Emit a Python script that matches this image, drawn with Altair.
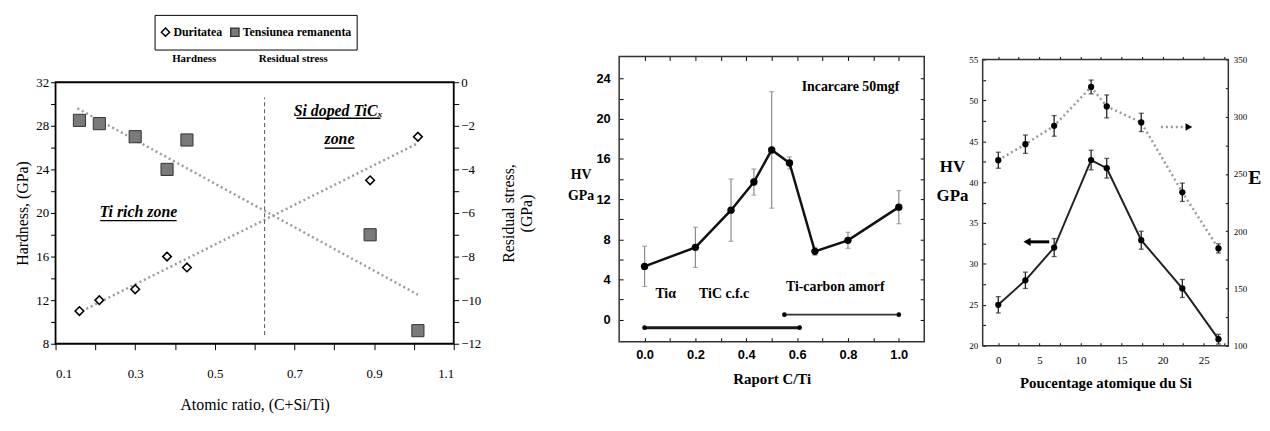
import altair as alt
import pandas as pd

SERIF = "Liberation Serif"
SANS = "Liberation Sans"

# ---------------- Panel 1 : hardness / residual stress ----------------
p1_series = ["Duritatea", "Tensiunea remanenta"]
p1_ratio = [0.16, 0.21, 0.30, 0.38, 0.43, 0.89, 1.01]
p1_hardness = [11.0, 12.0, 13.0, 16.0, 15.0, 23.0, 27.0]
p1_stress = [-1.75, -1.9, -2.5, -4.0, -2.65, -7.0, -11.4]
p1_trend_ratio = [0.155, 1.01]
p1_trend_hardness = [10.8, 26.4]
p1_trend_stress = [-1.2, -9.75]
p1_divider_ratio = [0.625]
p1_divider_lo = [8.8]
p1_divider_hi = [30.6]
p1_x_ticks = [0.1, 0.2, 0.3, 0.4, 0.5, 0.6, 0.7, 0.8, 0.9, 1.0, 1.1]
p1_y_ticks = [8, 10, 12, 14, 16, 18, 20, 22, 24, 26, 28, 30, 32]
p1_y2_ticks = [0, -1, -2, -3, -4, -5, -6, -7, -8, -9, -10, -11, -12]
p1_zone_text = ["Ti rich zone", "Si doped TiCₓ", "zone"]
p1_zone_x = [0.308, 0.81, 0.813]
p1_zone_y = [20.1, 29.4, 26.8]
p1_uline_x1 = [0.212, 0.705, 0.776]
p1_uline_x2 = [0.404, 0.916, 0.851]
p1_uline_y = [19.3, 28.7, 25.95]
p1_sublabels = ["Hardness", "Residual stress"]

# ---------------- Panel 2 : HV vs C/Ti ----------------
p2_ratio = [0.0, 0.2, 0.34, 0.43, 0.50, 0.57, 0.67, 0.80, 1.0]
p2_hv = [5.3, 7.2, 10.9, 13.7, 16.9, 15.6, 6.8, 7.9, 11.2]
p2_err = [2.0, 2.0, 3.1, 1.3, 5.8, 0.6, 0.4, 0.8, 1.65]
p2_x_ticks = [0.0, 0.1, 0.2, 0.3, 0.4, 0.5, 0.6, 0.7, 0.8, 0.9, 1.0]
p2_y_ticks = [0, 2, 4, 6, 8, 10, 12, 14, 16, 18, 20, 22, 24]
p2_notes = ["Incarcare 50mgf", "Tiα", "TiC c.f.c", "Ti-carbon amorf"]
p2_note_x = [0.81, 0.083, 0.313, 0.75]
p2_note_y = [23.2, 2.55, 2.55, 3.2]
p2_span_x1 = [0.0, 0.55]
p2_span_x2 = [0.61, 1.0]
p2_span_y = [-0.8, 0.5]

# ---------------- Panel 3 : HV and E vs Si % ----------------
p3_si = [0.0, 3.3, 6.8, 11.3, 13.2, 17.4, 22.4, 26.8]
p3_hv = [25.0, 28.0, 32.0, 42.7, 41.7, 32.9, 27.0, 20.8]
p3_hv_err = [1.0, 1.0, 1.1, 1.2, 1.2, 1.1, 1.1, 0.6]
p3_e = [262, 276, 292, 326, 309, 295, 234, 185]
p3_e_err = [7, 8, 9, 6, 10, 8, 8, 4]
p3_x_ticks = [0, 2.5, 5, 7.5, 10, 12.5, 15, 17.5, 20, 22.5, 25, 27.5]
p3_y_ticks = [20, 22.5, 25, 27.5, 30, 32.5, 35, 37.5, 40, 42.5, 45, 47.5, 50, 52.5, 55]
p3_y2_ticks = [100, 125, 150, 175, 200, 225, 250, 275, 300, 325, 350]
p3_hv_arrow_x = [3.5, 6.2]
p3_hv_arrow_y = [32.7]
p3_e_arrow_x = [19.8, 23.2]
p3_e_arrow_y = [291]

one = alt.Data(values=[{"k": 0}])


def ghost(left, right, top):
    return alt.Chart(one).mark_rule(strokeOpacity=0).encode(
        x=alt.value(left), x2=alt.value(right), y=alt.value(top))


def frame(w, top, bottom, color, width):
    return alt.Chart(one).mark_rect(fillOpacity=0, stroke=color, strokeWidth=width).encode(
        x=alt.value(0), x2=alt.value(w), y=alt.value(top), y2=alt.value(bottom))


# ======================= Panel 1 =======================
W1, H1 = 402, 290      # drawing region; the framed plot spans 26..290
sx1 = alt.Scale(domain=[0.1, 1.1], nice=False, zero=False)
sy1 = alt.Scale(domain=[8, 32], nice=False, zero=False, range=[290, 26])
sy1r = alt.Scale(domain=[-12, 0], nice=False, zero=False, range=[290, 26])
ax1 = alt.Axis(values=p1_x_ticks, format=".1f", title="Atomic ratio, (C+Si/Ti)",
               labelExpr="round(datum.value * 10) % 2 == 1 ? datum.label : ''",
               labelFont=SERIF, labelFontSize=13, tickSize=6, labelPadding=18,
               titleFont=SERIF, titleFontSize=16, titleFontWeight="normal", titlePadding=16)
ay1 = alt.Axis(values=p1_y_ticks, title="Hardness, (GPa)",
               labelExpr="datum.value % 4 == 0 ? datum.label : ''",
               labelFont=SERIF, labelFontSize=13, tickSize=5, labelPadding=2,
               titleFont=SERIF, titleFontSize=16, titleFontWeight="normal", titlePadding=5)
ay1r = alt.Axis(orient="right", values=p1_y2_ticks, title=["Residual stress,", "(GPa)"],
                labelExpr="datum.value % 2 == 0 ? datum.label : ''",
                titleAngle=270, labelFont=SERIF, labelFontSize=13, tickSize=5, labelPadding=2,
                titleFont=SERIF, titleFontSize=16, titleFontWeight="normal", titlePadding=18)


def X1(f):
    return alt.X(f"{f}:Q", scale=sx1, axis=ax1)


def Y1(f):
    return alt.Y(f"{f}:Q", scale=sy1, axis=ay1)


def Y1R(f):
    return alt.Y(f"{f}:Q", scale=sy1r, axis=ay1r)


leg1 = alt.Legend(orient="none", legendX=100, legendY=-42, direction="horizontal", title=None,
                  strokeColor="black", padding=5, labelFont=SERIF, labelFontSize=12,
                  labelFontWeight="bold", symbolSize=70, labelOffset=2, symbolStrokeWidth=1.4,
                  columnPadding=6, labelLimit=300, clipHeight=25)
shape_enc = alt.Shape("serie:N", scale=alt.Scale(domain=p1_series, range=["diamond", "square"]), legend=leg1)
fill_enc = alt.Fill("serie:N", scale=alt.Scale(domain=p1_series, range=["white", "#7a7a7a"]), legend=leg1)
stroke_enc = alt.Stroke("serie:N", scale=alt.Scale(domain=p1_series, range=["black", "#333333"]), legend=leg1)

df1 = pd.DataFrame({"ratio": p1_ratio, "hardness": p1_hardness, "stress": p1_stress})
diamonds = alt.Chart(df1).transform_calculate(serie="'Duritatea'").mark_point(
    filled=True, size=75, strokeWidth=1.6, opacity=1).encode(
    x=X1("ratio"), y=Y1("hardness"), shape=shape_enc, fill=fill_enc, stroke=stroke_enc)
squares = alt.Chart(df1).transform_calculate(serie="'Tensiunea remanenta'").mark_point(
    filled=True, size=150, strokeWidth=1, opacity=1).encode(
    x=X1("ratio"), y=Y1R("stress"), shape=shape_enc, fill=fill_enc, stroke=stroke_enc)

trend_h = alt.Chart(pd.DataFrame({"ratio": p1_trend_ratio, "hardness": p1_trend_hardness})).mark_line(
    color="#9a9a9a", strokeWidth=2.5, strokeDash=[2, 3]).encode(x=X1("ratio"), y=Y1("hardness"))
trend_s = alt.Chart(pd.DataFrame({"ratio": p1_trend_ratio, "stress": p1_trend_stress})).mark_line(
    color="#9a9a9a", strokeWidth=2.5, strokeDash=[2, 3]).encode(x=X1("ratio"), y=Y1R("stress"))

divider = alt.Chart(pd.DataFrame({"ratio": p1_divider_ratio, "lo": p1_divider_lo, "hi": p1_divider_hi})).mark_rule(
    color="#555555", strokeWidth=1, strokeDash=[4, 3]).encode(x=X1("ratio"), y=Y1("lo"), y2="hi:Q")

zones = alt.Chart(pd.DataFrame({"t": p1_zone_text, "ratio": p1_zone_x, "hardness": p1_zone_y})).mark_text(
    font=SERIF, fontSize=16, fontStyle="italic", fontWeight="bold", color="black").encode(
    x=X1("ratio"), y=Y1("hardness"), text="t:N")
ulines = alt.Chart(pd.DataFrame({"x1": p1_uline_x1, "x2": p1_uline_x2, "y": p1_uline_y})).mark_rule(
    color="black", strokeWidth=1.4).encode(x=X1("x1"), x2="x2:Q", y=Y1("y"))

sub_a = alt.Chart(one).mark_text(text=p1_sublabels[0], font=SERIF, fontSize=11, fontWeight="bold").encode(
    x=alt.value(140), y=alt.value(3))
sub_b = alt.Chart(one).mark_text(text=p1_sublabels[1], font=SERIF, fontSize=11, fontWeight="bold").encode(
    x=alt.value(240), y=alt.value(3))

left1 = alt.layer(ghost(-47, 495, -46), frame(W1, 26, 290, "black", 1.8), trend_h, divider, diamonds,
                  zones, ulines, sub_a, sub_b)
right1 = alt.layer(trend_s, squares)
panel1 = alt.layer(left1, right1).resolve_scale(y="independent").properties(width=W1, height=H1)

# ======================= Panel 2 =======================
W2, H2 = 308, 288
sx2 = alt.Scale(domain=[-0.1, 1.1], nice=False, zero=False)
sy2 = alt.Scale(domain=[-2.2, 26.2], nice=False, zero=False)
ax2 = alt.Axis(values=p2_x_ticks, format=".1f", title="Raport C/Ti",
               labelExpr="round(datum.value * 10) % 2 == 0 ? datum.label : ''",
               labelFont=SANS, labelFontWeight="bold", labelFontSize=13, tickSize=4, offset=-4,
               labelPadding=7, titleFont=SERIF, titleFontSize=15, titleFontWeight="bold", titlePadding=10)
ay2 = alt.Axis(values=p2_y_ticks, title=["HV", "GPa"], titleAngle=0, titleX=-43, titleY=112,
               labelExpr="datum.value % 4 == 0 ? datum.label : ''",
               titleAlign="center", titleBaseline="top", titleFont=SERIF, titleFontSize=14,
               titleFontWeight="bold", titleLineHeight=21,
               labelFont=SANS, labelFontWeight="bold", labelFontSize=13, tickSize=4, offset=-4,
               labelPadding=9)
ax2_top = alt.Axis(orient="top", values=p2_x_ticks, labels=False, title=None, tickSize=4, offset=-4)
ay2_right = alt.Axis(orient="right", values=p2_y_ticks, labels=False, title=None, tickSize=4, offset=-4)


def X2(f):
    return alt.X(f"{f}:Q", scale=sx2, axis=ax2)


def Y2(f):
    return alt.Y(f"{f}:Q", scale=sy2, axis=ay2)


df2 = pd.DataFrame({"r": p2_ratio, "hv": p2_hv, "err": p2_err})
base2 = alt.Chart(df2)
err2 = base2.transform_calculate(lo="datum.hv - datum.err", hi="datum.hv + datum.err").mark_errorbar(
    color="#8a8a8a", ticks=True, thickness=1.2).encode(x=X2("r"), y=Y2("lo"), y2="hi:Q")
line2 = base2.mark_line(color="#111111", strokeWidth=2.5).encode(x=X2("r"), y=Y2("hv"))
pts2 = base2.mark_circle(size=55, color="black", opacity=1).encode(x=X2("r"), y=Y2("hv"))
notes2 = alt.Chart(pd.DataFrame({"t": p2_notes, "r": p2_note_x, "hv": p2_note_y})).mark_text(
    font=SERIF, fontSize=14, fontWeight="bold", color="black").encode(x=X2("r"), y=Y2("hv"), text="t:N")

span_lo = alt.Chart(pd.DataFrame({"a": [p2_span_x1[0]], "b": [p2_span_x2[0]], "y": [p2_span_y[0]]}))
span_hi = alt.Chart(pd.DataFrame({"a": [p2_span_x1[1]], "b": [p2_span_x2[1]], "y": [p2_span_y[1]]}))
span_lo_rule = span_lo.mark_rule(color="#1a1a1a", strokeWidth=3).encode(x=X2("a"), x2="b:Q", y=Y2("y"))
span_hi_rule = span_hi.mark_rule(color="#333333", strokeWidth=2).encode(x=X2("a"), x2="b:Q", y=Y2("y"))
span_ends = alt.Chart(pd.DataFrame({"r": p2_span_x1 + p2_span_x2, "y": p2_span_y + p2_span_y})).mark_circle(
    size=22, color="black", opacity=1).encode(x=X2("r"), y=Y2("y"))

edge_ticks2 = base2.mark_point(opacity=0).encode(
    x=alt.X("r:Q", scale=alt.Scale(domain=[-0.1, 1.1], nice=False, zero=False), axis=ax2_top),
    y=alt.Y("hv:Q", scale=alt.Scale(domain=[-2.2, 26.2], nice=False, zero=False), axis=ay2_right))

inner2 = alt.layer(ghost(-72, 318, -46), frame(W2, 0, H2, "#333333", 1.5), err2, line2, pts2, notes2,
                   span_lo_rule, span_hi_rule, span_ends)
panel2 = alt.layer(inner2, edge_ticks2).resolve_scale(x="independent", y="independent").properties(
    width=W2, height=H2)

# ======================= Panel 3 =======================
W3, H3 = 248, 292      # framed plot spans 3..292
sx3 = alt.Scale(domain=[-1.9, 28], nice=False, zero=False)
sy3 = alt.Scale(domain=[20, 55], nice=False, zero=False, range=[292, 3])
sy3r = alt.Scale(domain=[100, 350], nice=False, zero=False, range=[292, 3])
ax3 = alt.Axis(values=p3_x_ticks, title="Poucentage atomique du Si",
               labelExpr="datum.value % 5 == 0 ? datum.label : ''",
               labelFont=SERIF, labelFontSize=11, tickSize=3, offset=-3, labelPadding=9,
               titleFont=SERIF, titleFontSize=15, titleFontWeight="bold", titlePadding=10)
ay3 = alt.Axis(values=p3_y_ticks, title=["HV", "GPa"], titleAngle=0, titleX=-34, titleY=103,
               labelExpr="datum.value % 5 == 0 ? datum.label : ''",
               titleAlign="center", titleBaseline="top", titleFont=SERIF, titleFontSize=17,
               titleFontWeight="bold", titleLineHeight=29,
               labelFont=SERIF, labelFontSize=9, tickSize=3, offset=-3, labelPadding=5)
ay3r = alt.Axis(orient="right", values=p3_y2_ticks, title=None,
                labelExpr="datum.value % 50 == 0 ? datum.label : ''",
                labelFont=SERIF, labelFontSize=9, tickSize=3, offset=-3, labelPadding=5)
ax3_top = alt.Axis(orient="top", values=p3_x_ticks, labels=False, title=None, tickSize=3, offset=-3)


def X3(f):
    return alt.X(f"{f}:Q", scale=sx3, axis=ax3)


def Y3(f):
    return alt.Y(f"{f}:Q", scale=sy3, axis=ay3)


def Y3R(f):
    return alt.Y(f"{f}:Q", scale=sy3r, axis=ay3r)


df3 = pd.DataFrame({"si": p3_si, "hv": p3_hv, "hverr": p3_hv_err, "e": p3_e, "eerr": p3_e_err})
base3 = alt.Chart(df3)
err3h = base3.transform_calculate(lo="datum.hv - datum.hverr", hi="datum.hv + datum.hverr").mark_errorbar(
    color="#222222", ticks=True, thickness=1.3).encode(x=X3("si"), y=Y3("lo"), y2="hi:Q")
line3h = base3.mark_line(color="#222222", strokeWidth=2).encode(x=X3("si"), y=Y3("hv"))
pts3h = base3.mark_circle(size=40, color="black", opacity=1).encode(x=X3("si"), y=Y3("hv"))
arrow_h = alt.Chart(pd.DataFrame({"a": [p3_hv_arrow_x[0]], "b": [p3_hv_arrow_x[1]], "y": p3_hv_arrow_y}))
arrow_h_rule = arrow_h.mark_rule(color="black", strokeWidth=3).encode(x=X3("a"), x2="b:Q", y=Y3("y"))
arrow_h_head = arrow_h.mark_point(shape="triangle-left", filled=True, size=70, color="black", opacity=1).encode(
    x=X3("a"), y=Y3("y"))
e_label = alt.Chart(one).mark_text(text="E", font=SERIF, fontSize=20, fontWeight="bold", align="left",
                                   baseline="middle").encode(x=alt.value(268), y=alt.value(123))

err3e = base3.transform_calculate(lo="datum.e - datum.eerr", hi="datum.e + datum.eerr").mark_errorbar(
    color="#222222", ticks=True, thickness=1.3).encode(x=X3("si"), y=Y3R("lo"), y2="hi:Q")
line3e = base3.mark_line(color="#9a9a9a", strokeWidth=2.5, strokeDash=[2, 3]).encode(x=X3("si"), y=Y3R("e"))
pts3e = base3.mark_circle(size=40, color="black", opacity=1).encode(x=X3("si"), y=Y3R("e"))
arrow_e = alt.Chart(pd.DataFrame({"a": [p3_e_arrow_x[0]], "b": [p3_e_arrow_x[1]], "y": p3_e_arrow_y}))
arrow_e_rule = arrow_e.mark_rule(color="#9a9a9a", strokeWidth=2.5, strokeDash=[2, 3]).encode(
    x=X3("a"), x2="b:Q", y=Y3R("y"))
arrow_e_head = arrow_e.mark_point(shape="triangle-right", filled=True, size=60, color="black", opacity=1).encode(
    x=X3("b"), y=Y3R("y"))

edge_ticks3 = base3.mark_point(opacity=0).encode(
    x=alt.X("si:Q", scale=alt.Scale(domain=[-1.9, 28], nice=False, zero=False), axis=ax3_top))

left3 = alt.layer(ghost(-45, 277, -46), frame(W3, 3, H3, "#333333", 1.5), err3h, line3h, pts3h,
                  arrow_h_rule, arrow_h_head, e_label)
right3 = alt.layer(line3e, err3e, pts3e, arrow_e_rule, arrow_e_head)
inner3 = alt.layer(left3, right3).resolve_scale(y="independent")
panel3 = alt.layer(inner3, edge_ticks3).resolve_scale(x="independent").properties(width=W3, height=H3)

chart = alt.hconcat(panel1, panel2, panel3, spacing=0).properties(
    padding=0, background="white"
).configure_view(
    stroke="transparent"
).configure_axis(
    grid=False, domain=False, tickColor="black", labelColor="black", titleColor="black"
)

chart.save("out.html", embed_options={"renderer": "svg", "actions": False})
